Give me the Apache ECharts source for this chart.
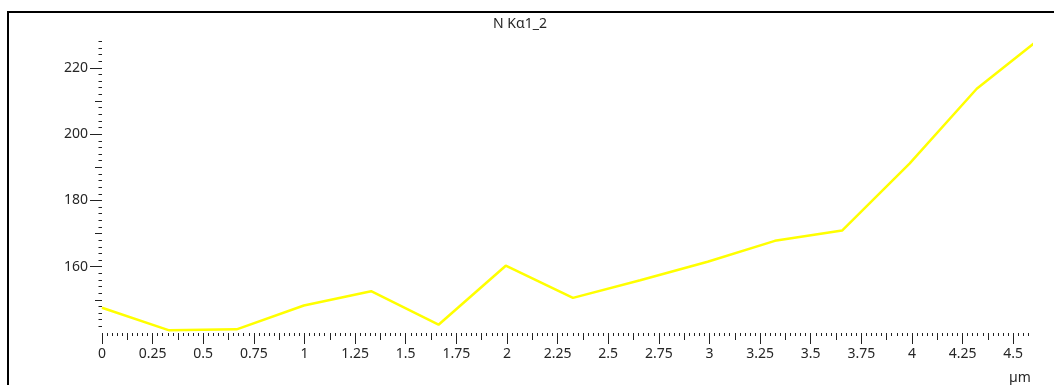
<!DOCTYPE html>
<html>
<head>
<meta charset="utf-8">
<script src="https://cdn.jsdelivr.net/npm/echarts@6/dist/echarts.min.js"></script>
<style>
  html, body { margin: 0; padding: 0; background: #fff; }
  #chart { width: 1054px; height: 385px; }
</style>
</head>
<body>
<div id="chart"></div>
<script>
// Line-scan profile of the N Kα1_2 signal along the scan (distance in µm)
const chartTitle = 'N Kα1_2';
const distanceUnit = 'µm';

const positions = [0, 0.332, 0.665, 0.997, 1.329, 1.662, 1.994, 2.326, 2.658, 2.991, 3.323, 3.655, 3.988, 4.32, 4.652];
const counts    = [147.6, 140.8, 141.1, 148.3, 152.6, 142.5, 160.3, 150.6, 155.9, 161.5, 167.8, 170.9, 191.1, 213.7, 229.8];

const xTickValues = [0, 0.25, 0.5, 0.75, 1, 1.25, 1.5, 1.75, 2, 2.25, 2.5, 2.75, 3, 3.25, 3.5, 3.75, 4, 4.25, 4.5];
const xTickLabels = ['0', '0.25', '0.5', '0.75', '1', '1.25', '1.5', '1.75', '2', '2.25', '2.5', '2.75', '3', '3.25', '3.5', '3.75', '4', '4.25', '4.5'];
const yTickValues = [160, 180, 200, 220];
const yTickLabels = ['160', '180', '200', '220'];

const xMin = 0, xMax = 4.588;
const yMin = 140, yMax = 228.4;

// secondary tick ladders (half-steps and fine dotted steps)
const xMidTicks = [], xFineTicks = [], yMidTicks = [], yFineTicks = [];
for (let i = 0; i * 0.125 <= xMax + 1e-9; i++) if (i % 2 === 1) xMidTicks.push(+(i * 0.125).toFixed(4));
for (let i = 1; i * 0.025 <= xMax + 1e-9; i++) if (i % 5 !== 0) xFineTicks.push(+(i * 0.025).toFixed(4));
for (let v = 150; v <= yMax; v += 20) yMidTicks.push(v);
for (let v = 142; v <= yMax; v += 2) if (v % 10 !== 0) yFineTicks.push(v);

const tickColor = '#222222';
const textColor = '#262626';
const font = 'Noto Sans';

function xAxisLayer(ticks, len, withLabels) {
  return {
    type: 'value', gridIndex: 0, position: 'bottom', min: xMin, max: xMax,
    axisLine: { show: false },
    splitLine: { show: false },
    axisTick: { show: true, inside: false, length: len, customValues: ticks,
                lineStyle: { color: tickColor, width: 1 } },
    axisLabel: withLabels ? {
      show: true, customValues: xTickValues, margin: 14,
      color: textColor, fontFamily: font, fontSize: 14,
      formatter: v => xTickLabels[xTickValues.indexOf(v)]
    } : { show: false }
  };
}

function yAxisLayer(ticks, len, withLabels) {
  return {
    type: 'value', gridIndex: 0, position: 'left', min: yMin, max: yMax,
    axisLine: { show: false },
    splitLine: { show: false },
    axisTick: { show: true, inside: false, length: len, customValues: ticks,
                lineStyle: { color: tickColor, width: 1 } },
    axisLabel: withLabels ? {
      show: true, customValues: yTickValues, margin: 14,
      color: textColor, fontFamily: font, fontSize: 14,
      formatter: v => yTickLabels[yTickValues.indexOf(v)]
    } : { show: false }
  };
}

const chart = echarts.init(document.getElementById('chart'), null, { renderer: 'canvas' });
chart.setOption({
  animation: false,
  backgroundColor: '#ffffff',
  grid: { left: 102, right: 23, top: 40, bottom: 52, containLabel: false },
  xAxis: [
    xAxisLayer(xTickValues, 11, true),
    xAxisLayer(xMidTicks, 7, false),
    xAxisLayer(xFineTicks, 3, false)
  ],
  yAxis: [
    yAxisLayer(yTickValues, 12, true),
    yAxisLayer(yMidTicks, 7, false),
    yAxisLayer(yFineTicks, 3.5, false)
  ],
  series: [{
    type: 'line',
    xAxisIndex: 0, yAxisIndex: 0,
    data: positions.map((x, i) => [x, counts[i]]),
    showSymbol: false,
    clip: true,
    lineStyle: { color: '#ffff00', width: 2.5 }
  }],
  graphic: [
    {
      type: 'rect', silent: true,
      shape: { x: 8, y: 12, width: 1100, height: 420 },
      style: { fill: 'none', stroke: '#000000', lineWidth: 2 }
    },
    {
      type: 'text', silent: true, x: 520, y: 24,
      style: { text: chartTitle, fill: textColor, font: '14px "' + font + '"',
               textAlign: 'center', textVerticalAlign: 'middle' }
    },
    {
      type: 'text', silent: true, x: 1020, y: 378,
      style: { text: distanceUnit, fill: textColor, font: '14px "' + font + '"',
               textAlign: 'center', textVerticalAlign: 'middle' }
    }
  ]
});
</script>
</body>
</html>
